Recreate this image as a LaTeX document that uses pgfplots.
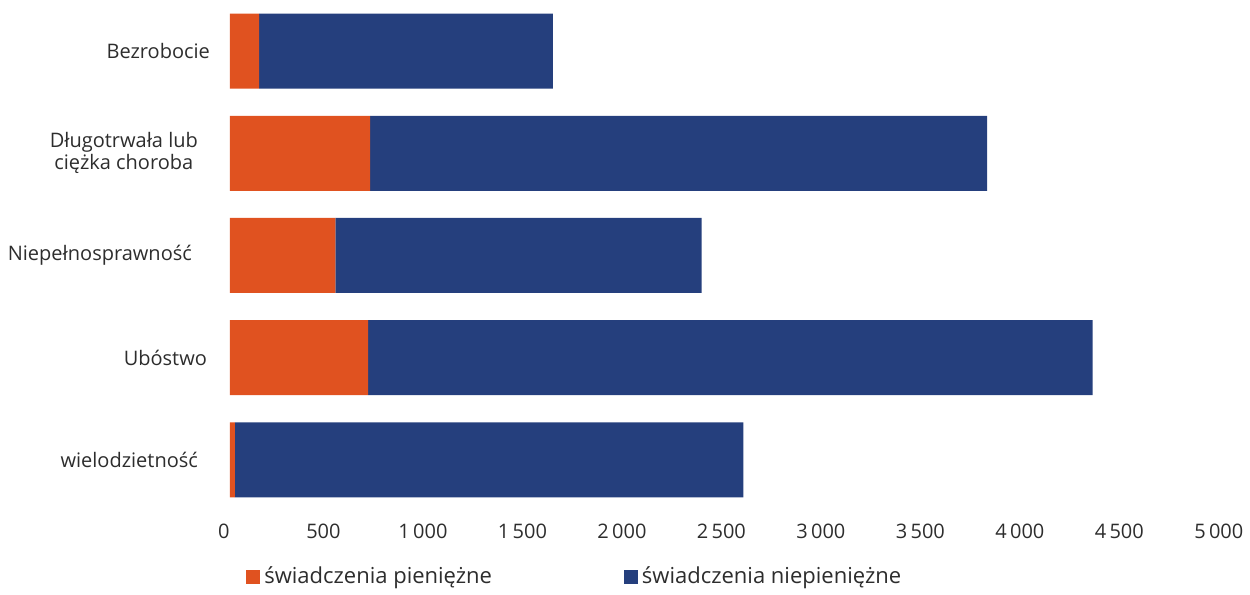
\documentclass[border=0pt]{standalone}
\usepackage{pgfplots}
\pgfplotsset{compat=1.18}
\usepackage{fontspec}
\setmainfont{Open Sans}
\definecolor{cOrange}{RGB}{224,82,32}
\definecolor{cBlue}{RGB}{37,63,125}
\definecolor{txt}{RGB}{45,45,45}
\begin{document}
\begin{tikzpicture}
\begin{axis}[name=ax,
  scale only axis, width=497.5pt, height=255.5pt,
  xbar stacked, bar width=37.5pt,
  xmin=0, xmax=5000, ymin=-0.5, ymax=4.5,
  axis line style={draw=none}, tick style={draw=none},
  xtick={0,500,...,5000},
  ytick={0,1,2,3,4},
  yticklabels={wielodzietność\hspace*{3pt},Ubóstwo\hspace*{-1.5pt},Niepełnosprawność\hspace*{6pt},{Długotrwała lub\hspace*{3pt}\\ciężka choroba\hspace*{3pt}},Bezrobocie\hspace*{-3pt}},
  /pgf/number format/.cd, 1000 sep={\,}, assume math mode=true,
  /pgfplots/.cd,
  tick label style={font=\fontsize{10pt}{11pt}\selectfont, text=txt},
  yticklabel style={align=center, xshift=-9.5pt},
  xticklabel style={yshift=-3pt, xshift=-3pt},
  legend columns=2,
  legend style={draw=none, at={(0.010,-0.129)}, anchor=west,
    font=\fontsize{11pt}{13pt}\selectfont, text=txt,
    /tikz/every even column/.append style={column sep=64pt}},
  legend image code/.code={\fill[#1] (0pt,-3.5pt) rectangle (7pt,3.5pt);},
]
\addplot[fill=cOrange, draw=none] coordinates {(25,0) (695,1) (530,2) (705,3) (146,4)};
\addplot[fill=cBlue, draw=none] coordinates {(2555,0) (3640,1) (1840,2) (3100,3) (1477,4)};
\legend{świadczenia pieniężne, świadczenia niepieniężne}
\end{axis}
\path (ax.south west) ++(-115pt,-39pt) coordinate (bl);
\path (ax.north east) ++(12.5pt,0pt) coordinate (tr);
\path (bl) rectangle (tr);
\end{tikzpicture}
\end{document}
